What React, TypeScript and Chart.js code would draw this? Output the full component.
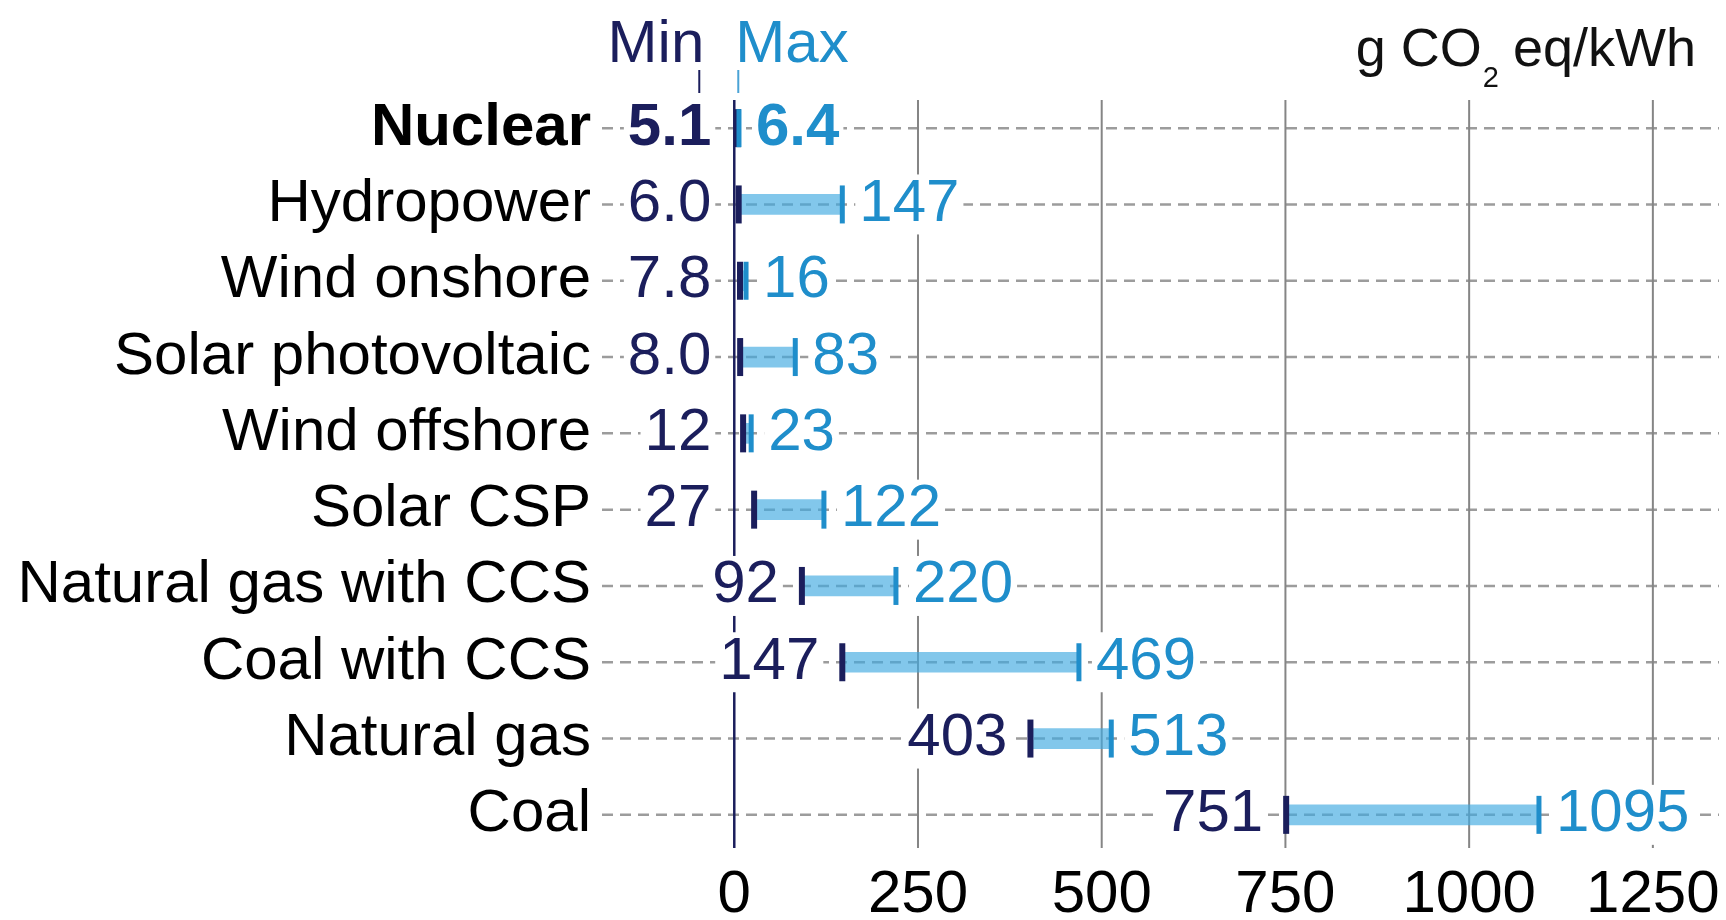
import React, { useEffect, useRef } from 'react';
import { Chart, registerables } from 'chart.js';

Chart.register(...registerables);

const categories = [
  'Nuclear',
  'Hydropower',
  'Wind onshore',
  'Solar photovoltaic',
  'Wind offshore',
  'Solar CSP',
  'Natural gas with CCS',
  'Coal with CCS',
  'Natural gas',
  'Coal',
];
const minValues = [5.1, 6.0, 7.8, 8.0, 12, 27, 92, 147, 403, 751];
const maxValues = [6.4, 147, 16, 83, 23, 122, 220, 469, 513, 1095];
const minLabels = ['5.1', '6.0', '7.8', '8.0', '12', '27', '92', '147', '403', '751'];
const maxLabels = ['6.4', '147', '16', '83', '23', '122', '220', '469', '513', '1095'];
const xTickValues = [0, 250, 500, 750, 1000, 1250];
const headerMin = 'Min';
const headerMax = 'Max';
const unitParts = ['g CO', '2', ' eq/kWh'];

const NAVY = '#1b1e5c';
const BLUE = '#1f8ecb';
const BAR = 'rgba(66,170,224,0.66)';
const FONT = '"Liberation Sans", Arial, Helvetica, sans-serif';
const CANVAS_H = 937;

export default function App() {
  const ref = useRef<HTMLCanvasElement>(null);

  useEffect(() => {
    const canvas = ref.current;
    if (!canvas) return;

    const overlay = {
      id: 'overlay',
      beforeDatasetsDraw(chart: any) {
        const { ctx, chartArea } = chart;
        const xs = chart.scales.x;
        const ys = chart.scales.y;
        const x0 = xs.getPixelForValue(0);
        ctx.save();
        // dashed row lines
        ctx.strokeStyle = '#9c9c9c';
        ctx.lineWidth = 2.5;
        ctx.setLineDash([11, 7]);
        categories.forEach((_, i) => {
          const cy = ys.getPixelForValue(i);
          ctx.beginPath();
          ctx.moveTo(chartArea.left, cy);
          ctx.lineTo(chartArea.right, cy);
          ctx.stroke();
        });
        ctx.setLineDash([]);
        // vertical grid lines
        xTickValues.forEach((v) => {
          const px = xs.getPixelForValue(v);
          ctx.beginPath();
          ctx.strokeStyle = v === 0 ? NAVY : '#858585';
          ctx.lineWidth = v === 0 ? 2.5 : 2;
          ctx.moveTo(px, chartArea.top + 10);
          ctx.lineTo(px, chartArea.bottom - 5);
          ctx.stroke();
        });
        // value labels with white backing
        ctx.textBaseline = 'middle';
        categories.forEach((_, i) => {
          const cy = ys.getPixelForValue(i);
          ctx.font = `${i === 0 ? 'bold ' : ''}60px ${FONT}`;
          const anchor = minValues[i] < 50 ? x0 : xs.getPixelForValue(minValues[i]);
          const right = anchor - 23;
          const wMin = ctx.measureText(minLabels[i]).width;
          ctx.fillStyle = '#ffffff';
          ctx.fillRect(right - wMin - 4, cy - 30, wMin + 8, 60);
          ctx.fillStyle = NAVY;
          ctx.textAlign = 'right';
          ctx.fillText(minLabels[i], right, cy);

          const left = xs.getPixelForValue(maxValues[i]) + 17;
          const wMax = ctx.measureText(maxLabels[i]).width;
          ctx.fillStyle = '#ffffff';
          ctx.fillRect(left - 4, cy - 30, wMax + 8, 60);
          ctx.fillStyle = BLUE;
          ctx.textAlign = 'left';
          ctx.fillText(maxLabels[i], left, cy);
        });
        ctx.restore();
      },
      afterDraw(chart: any) {
        const { ctx, chartArea } = chart;
        const xs = chart.scales.x;
        const x0 = xs.getPixelForValue(0);
        ctx.save();
        ctx.textBaseline = 'alphabetic';
        ctx.font = `60px ${FONT}`;
        ctx.fillStyle = NAVY;
        ctx.textAlign = 'right';
        ctx.fillText(headerMin, x0 - 30, 62);
        ctx.fillStyle = BLUE;
        ctx.textAlign = 'left';
        ctx.fillText(headerMax, x0 + 1, 62);
        ctx.lineWidth = 2;
        ctx.strokeStyle = NAVY;
        ctx.beginPath();
        ctx.moveTo(x0 - 35, 70);
        ctx.lineTo(x0 - 35, 93);
        ctx.stroke();
        ctx.strokeStyle = '#4aa3d6';
        ctx.beginPath();
        ctx.moveTo(x0 + 4, 70);
        ctx.lineTo(x0 + 4, 93);
        ctx.stroke();

        // unit label
        ctx.fillStyle = '#111111';
        ctx.textAlign = 'left';
        ctx.font = `54px ${FONT}`;
        const w1 = ctx.measureText(unitParts[0]).width;
        const w3 = ctx.measureText(unitParts[2]).width;
        ctx.font = `29px ${FONT}`;
        const w2 = ctx.measureText(unitParts[1]).width;
        const endX = chartArea.right - 23;
        const startX = endX - (w1 + w2 + w3);
        ctx.font = `54px ${FONT}`;
        ctx.fillText(unitParts[0], startX, 66);
        ctx.font = `29px ${FONT}`;
        ctx.fillText(unitParts[1], startX + w1 + 1, 87);
        ctx.font = `54px ${FONT}`;
        ctx.fillText(unitParts[2], startX + w1 + w2, 66);
        ctx.restore();
      },
    };

    const chart = new Chart(canvas, {
      type: 'bar',
      data: {
        labels: categories,
        datasets: [
          {
            type: 'bar',
            indexAxis: 'y',
            data: categories.map((_, i) => [minValues[i], maxValues[i]]),
            backgroundColor: BAR,
            borderWidth: 0,
            barThickness: 20,
            order: 3,
          } as any,
          {
            type: 'line',
            indexAxis: 'y',
            data: minValues,
            showLine: false,
            pointStyle: 'line',
            pointRotation: 90,
            pointRadius: 19,
            pointBorderWidth: 6,
            pointBorderColor: NAVY,
            pointBackgroundColor: NAVY,
            order: 2,
          } as any,
          {
            type: 'line',
            indexAxis: 'y',
            data: maxValues,
            showLine: false,
            pointStyle: 'line',
            pointRotation: 90,
            pointRadius: 19,
            pointBorderWidth: 5,
            pointBorderColor: BLUE,
            pointBackgroundColor: BLUE,
            order: 1,
          } as any,
        ],
      },
      options: {
        responsive: false,
        animation: false,
        indexAxis: 'y',
        layout: { autoPadding: false, padding: { top: 90, right: 7, bottom: 0, left: 0 } },
        plugins: {
          legend: { display: false },
          tooltip: { enabled: false },
        },
        scales: {
          x: {
            type: 'linear',
            min: -180,
            max: 1340,
            afterBuildTicks: (s: any) => {
              s.ticks = xTickValues.map((v) => ({ value: v }));
            },
            afterFit: (s: any) => {
              s.paddingLeft = 0;
              s.paddingRight = 0;
            },
            grid: { display: false, drawTicks: false },
            border: { display: false },
            ticks: {
              font: { family: FONT, size: 60, lineHeight: 1 },
              color: '#000000',
              padding: 12,
              maxRotation: 0,
              autoSkip: false,
              callback: (v: any) => String(v),
            },
          },
          y: {
            type: 'category',
            afterFit: (s: any) => {
              s.width = 602;
            },
            grid: { display: false, drawTicks: false },
            border: { display: false },
            ticks: {
              autoSkip: false,
              padding: 11,
              color: '#000000',
              font: (c: any) => ({
                family: FONT,
                size: 60,
                lineHeight: 1,
                weight: c.index === 0 ? 'bold' : 'normal',
              }),
            },
          },
        },
      } as any,
      plugins: [overlay],
    });

    return () => chart.destroy();
  }, []);

  return (
    <div
      style={{
        position: 'fixed',
        left: 0,
        top: 0,
        width: 1726,
        height: 920,
        overflow: 'hidden',
        background: '#ffffff',
      }}
    >
      <canvas
        ref={ref}
        width={1726}
        height={CANVAS_H}
        style={{ width: 1726, height: CANVAS_H, display: 'block' }}
      />
    </div>
  );
}
